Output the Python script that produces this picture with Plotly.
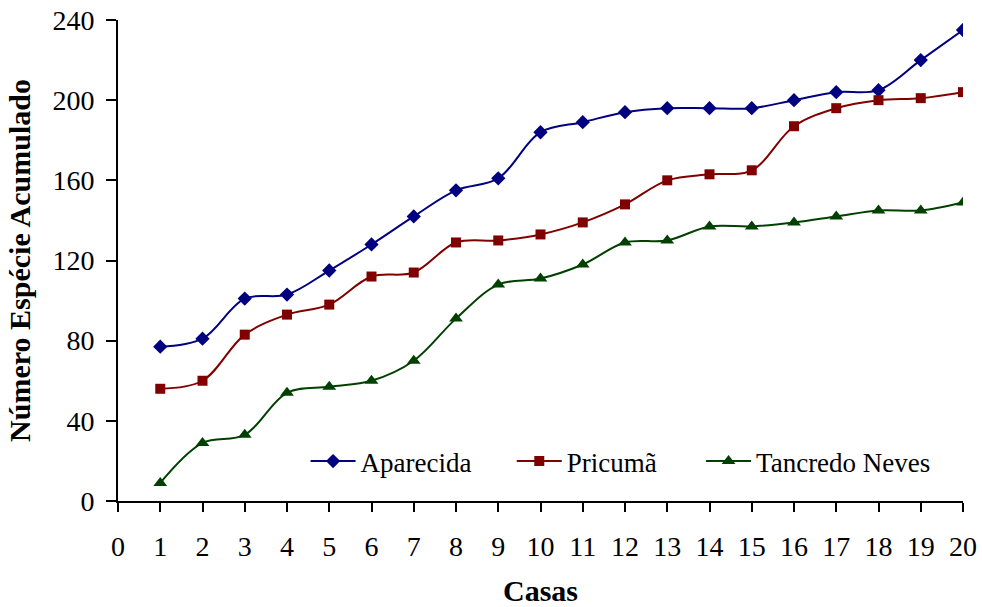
import plotly.graph_objects as go

casas = list(range(1, 21))
aparecida = [77, 81, 101, 103, 115, 128, 142, 155, 161, 184, 189, 194, 196, 196, 196, 200, 204, 205, 220, 235]
pricuma = [56, 60, 83, 93, 98, 112, 114, 129, 130, 133, 139, 148, 160, 163, 165, 187, 196, 200, 201, 204]
tancredo = [9, 29, 33, 54, 57, 60, 70, 91, 108, 111, 118, 129, 130, 137, 137, 139, 142, 145, 145, 149]

series_names = ["Aparecida", "Pricumã", "Tancredo Neves"]
colors = ["#000080", "#800000", "#004000"]
symbols = ["diamond", "square", "triangle-up"]
sizes = [11, 10, 12]
legend_ids = ["legend", "legend2", "legend3"]
legend_x = [0.222, 0.466, 0.690]

FONT = "Liberation Serif"

fig = go.Figure()
for name, vals, col, sym, sz, lg in zip(series_names, [aparecida, pricuma, tancredo], colors, symbols, sizes, legend_ids):
    fig.add_trace(go.Scatter(
        x=casas, y=vals, name=name, mode="lines+markers",
        line=dict(color=col, width=2, shape="spline", smoothing=1.0),
        marker=dict(symbol=sym, size=sz, color=col),
        legend=lg,
    ))

legend_common = dict(
    orientation="h", y=0.082, xanchor="left", yanchor="middle",
    bgcolor="rgba(0,0,0,0)", font=dict(family=FONT, size=27, color="black"),
    itemwidth=45,
)

fig.update_layout(
    width=982, height=607,
    margin=dict(l=118, r=19, t=20, b=106),
    paper_bgcolor="white", plot_bgcolor="white",
    font=dict(family=FONT, size=28, color="black"),
    showlegend=True,
    legend=dict(x=legend_x[0], **legend_common),
    legend2=dict(x=legend_x[1], **legend_common),
    legend3=dict(x=legend_x[2], **legend_common),
    xaxis=dict(
        range=[0, 20], tickmode="array", tickvals=list(range(0, 21)),
        ticktext=[str(i) for i in range(0, 21)],
        showgrid=False, zeroline=False, showline=True, linecolor="black", linewidth=2,
        ticks="outside", ticklen=9, tickwidth=2, tickcolor="black",
        ticklabelstandoff=10,
        tickfont=dict(family=FONT, size=28, color="black"),
        automargin=False,
        title=dict(text="<b>Casas</b>", font=dict(family=FONT, size=30, color="black"), standoff=21),
    ),
    yaxis=dict(
        range=[0, 240], tickmode="array", tickvals=[0, 40, 80, 120, 160, 200, 240],
        showgrid=False, zeroline=False, showline=True, linecolor="black", linewidth=2,
        ticks="outside", ticklen=10, tickwidth=2, tickcolor="black",
        ticklabelstandoff=6,
        tickfont=dict(family=FONT, size=28, color="black"),
        automargin=False,
        title=dict(text="<b>Número Espécie Acumulado</b>", font=dict(family=FONT, size=30, color="black"), standoff=13),
    ),
)

fig.write_html("out.html", config={"displayModeBar": False},
               post_script="document.body.style.margin='0';")
